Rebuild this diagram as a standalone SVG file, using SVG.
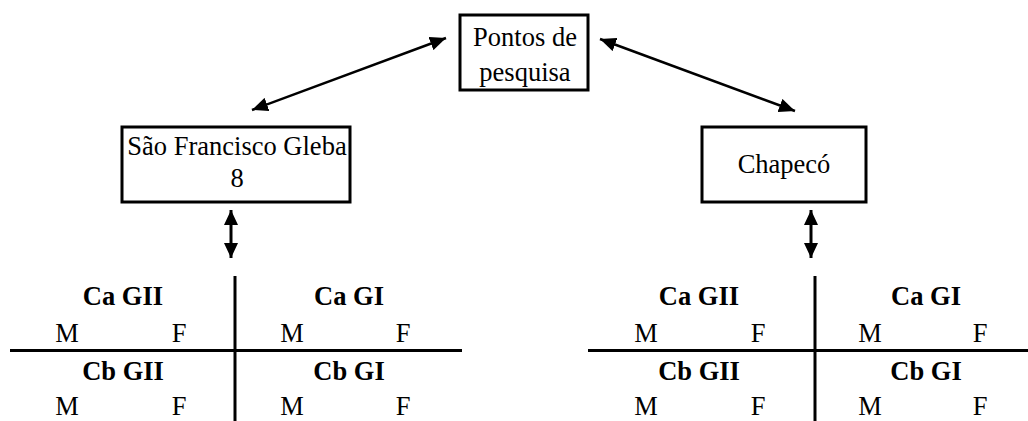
<svg xmlns="http://www.w3.org/2000/svg" width="1028" height="421" viewBox="0 0 1028 421">
<style>
.box{fill:#fff;stroke:#000;stroke-width:3}
.t{font-family:"Liberation Serif","Times New Roman",Times,serif;font-size:26.5px;fill:#000;text-anchor:middle}
.b{font-weight:bold}
.ln{stroke:#000;stroke-width:3;fill:none}
.ar{stroke:#000;stroke-width:2.5;fill:none;marker-start:url(#ah);marker-end:url(#ah)}
.av{stroke:#000;stroke-width:3;fill:none;marker-start:url(#ahv);marker-end:url(#ahv)}
</style>
<defs>
<marker id="ah" markerUnits="userSpaceOnUse" markerWidth="16" markerHeight="14" refX="16" refY="7" orient="auto-start-reverse" viewBox="0 0 16 14">
<path d="M0,0 L16,7 L0,14 z" fill="#000"/>
</marker>
<marker id="ahv" markerUnits="userSpaceOnUse" markerWidth="15" markerHeight="14" refX="15" refY="7" orient="auto-start-reverse" viewBox="0 0 15 14">
<path d="M0,0 L15,7 L0,14 z" fill="#000"/>
</marker>
</defs>
<g id="connectors">
<line class="ar" x1="446" y1="38" x2="252" y2="110"/>
<line class="ar" x1="600" y1="39" x2="795" y2="111"/>
<line class="av" x1="231" y1="210" x2="231" y2="258"/>
<line class="av" x1="811" y1="210" x2="811" y2="258"/>
</g>
<g id="pontos">
<rect class="box" x="460" y="15" width="128" height="75"/>
<text class="t" x="525" y="46">Pontos de</text>
<text class="t" x="525" y="81">pesquisa</text>
</g>
<g id="saofrancisco">
<rect class="box" x="122" y="127" width="228" height="75"/>
<text class="t" x="237" y="155">São Francisco Gleba</text>
<text class="t" x="237" y="187">8</text>
</g>
<g id="chapeco">
<rect class="box" x="702" y="127" width="164" height="75"/>
<text class="t" x="784" y="173">Chapecó</text>
</g>
<g id="table-left">
<line class="ln" x1="10" y1="350.5" x2="462" y2="350.5"/>
<line class="ln" x1="235" y1="276" x2="235" y2="421"/>
<text class="t b" x="123" y="305">Ca GII</text>
<text class="t b" x="349" y="305">Ca GI</text>
<text class="t" x="67" y="342">M</text>
<text class="t" x="179" y="342">F</text>
<text class="t" x="292" y="342">M</text>
<text class="t" x="403" y="342">F</text>
<text class="t b" x="123" y="380">Cb GII</text>
<text class="t b" x="349" y="380">Cb GI</text>
<text class="t" x="67" y="415">M</text>
<text class="t" x="179" y="415">F</text>
<text class="t" x="292" y="415">M</text>
<text class="t" x="403" y="415">F</text>
</g>
<g id="table-right">
<line class="ln" x1="588" y1="350.5" x2="1028" y2="350.5"/>
<line class="ln" x1="815" y1="276" x2="815" y2="421"/>
<text class="t b" x="699" y="305">Ca GII</text>
<text class="t b" x="926" y="305">Ca GI</text>
<text class="t" x="646" y="342">M</text>
<text class="t" x="758" y="342">F</text>
<text class="t" x="870" y="342">M</text>
<text class="t" x="980" y="342">F</text>
<text class="t b" x="699" y="380">Cb GII</text>
<text class="t b" x="926" y="380">Cb GI</text>
<text class="t" x="646" y="415">M</text>
<text class="t" x="758" y="415">F</text>
<text class="t" x="870" y="415">M</text>
<text class="t" x="980" y="415">F</text>
</g>
</svg>
